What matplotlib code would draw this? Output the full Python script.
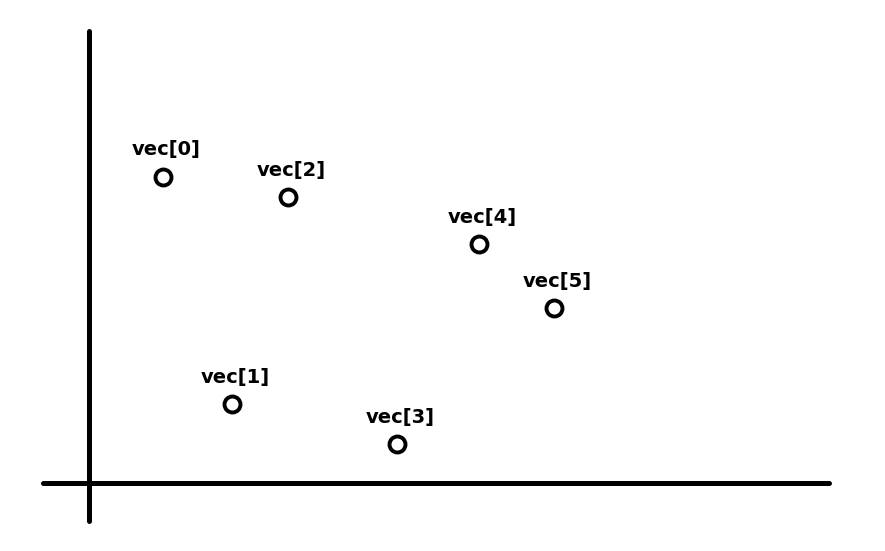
import matplotlib.pyplot as plt

# point positions (pixels relative to the axis origin, y up)
labels = ['vec[0]', 'vec[1]', 'vec[2]', 'vec[3]', 'vec[4]', 'vec[5]']
xs = [74.5, 143.5, 199.5, 308.5, 390.5, 465.5]
ys = [306.0, 78.5, 285.5, 38.5, 239.0, 174.5]

ox, oy = 88.5, 482.5  # origin in image pixels
W, H = 885, 551

fig = plt.figure(figsize=(8.85, 5.51), dpi=100)
ax = fig.add_axes([0, 0, 1, 1])
ax.set_xlim(-ox, W - ox)
ax.set_ylim(oy - H, oy)
ax.axis('off')

lw = 3.6
ax.plot([43 - ox, 829 - ox], [0, 0], color='black', lw=lw, solid_capstyle='round')
ax.plot([0, 0], [oy - 521, oy - 31], color='black', lw=lw, solid_capstyle='round')

ax.plot(xs, ys, 'o', ms=11.5, mfc='white', mec='black', mew=2.8, zorder=3)

for lab, x, y in zip(labels, xs, ys):
    ax.text(x + 3, y + 21, lab, ha='center', va='baseline',
            fontsize=14, fontweight='bold', family='DejaVu Sans')

fig.savefig('out.png', dpi=100)
